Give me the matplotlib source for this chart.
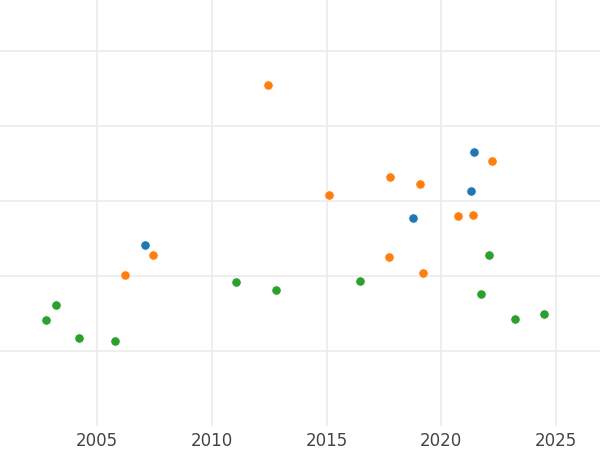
import matplotlib
matplotlib.use("Agg")
import matplotlib.pyplot as plt

# three series (x = year, y = value)
blue_x = [2007.09, 2018.77, 2021.28, 2021.41]
blue_y = [2.41, 2.78, 3.13, 3.65]

orange_x = [2012.46, 2015.12, 2017.78, 2019.07, 2022.21, 2020.73, 2021.40,
            2006.21, 2007.45, 2017.71, 2019.19]
orange_y = [4.55, 3.08, 3.32, 3.22, 3.53, 2.80, 2.81,
            2.01, 2.28, 2.26, 2.04]

green_x = [2002.76, 2003.21, 2004.20, 2005.78, 2011.07, 2012.81, 2016.46,
           2022.09, 2021.73, 2023.20, 2024.46]
green_y = [1.42, 1.61, 1.17, 1.13, 1.92, 1.82, 1.93,
           2.28, 1.76, 1.43, 1.50]

x_ticks = [2005, 2010, 2015, 2020, 2025]
y_ticks = [1, 2, 3, 4, 5]

fig = plt.figure(figsize=(6, 4.5), dpi=100)
ax = fig.add_axes([0, 24 / 450, 1, 426 / 450])

for xs, ys, col in [(blue_x, blue_y, "#1f77b4"),
                    (orange_x, orange_y, "#ff7f0e"),
                    (green_x, green_y, "#2ca02c")]:
    ax.scatter(xs, ys, s=45, color=col, edgecolor="white", linewidth=0.5, zorder=3)

# drawing details
ax.set_xlim(2000.773, 2026.917)
ax.set_ylim(0, 5.68)
ax.set_xticks(x_ticks)
ax.set_xticklabels([str(t) for t in x_ticks])
ax.set_yticks(y_ticks)
ax.set_yticklabels([])
ax.grid(True, color="#ebebeb", linewidth=1.2)
ax.set_axisbelow(True)
for s in ax.spines.values():
    s.set_visible(False)
ax.tick_params(axis="both", length=0)
ax.tick_params(axis="x", labelsize=12, labelcolor="#444444", pad=4)

fig.savefig("out.png", dpi=100)
